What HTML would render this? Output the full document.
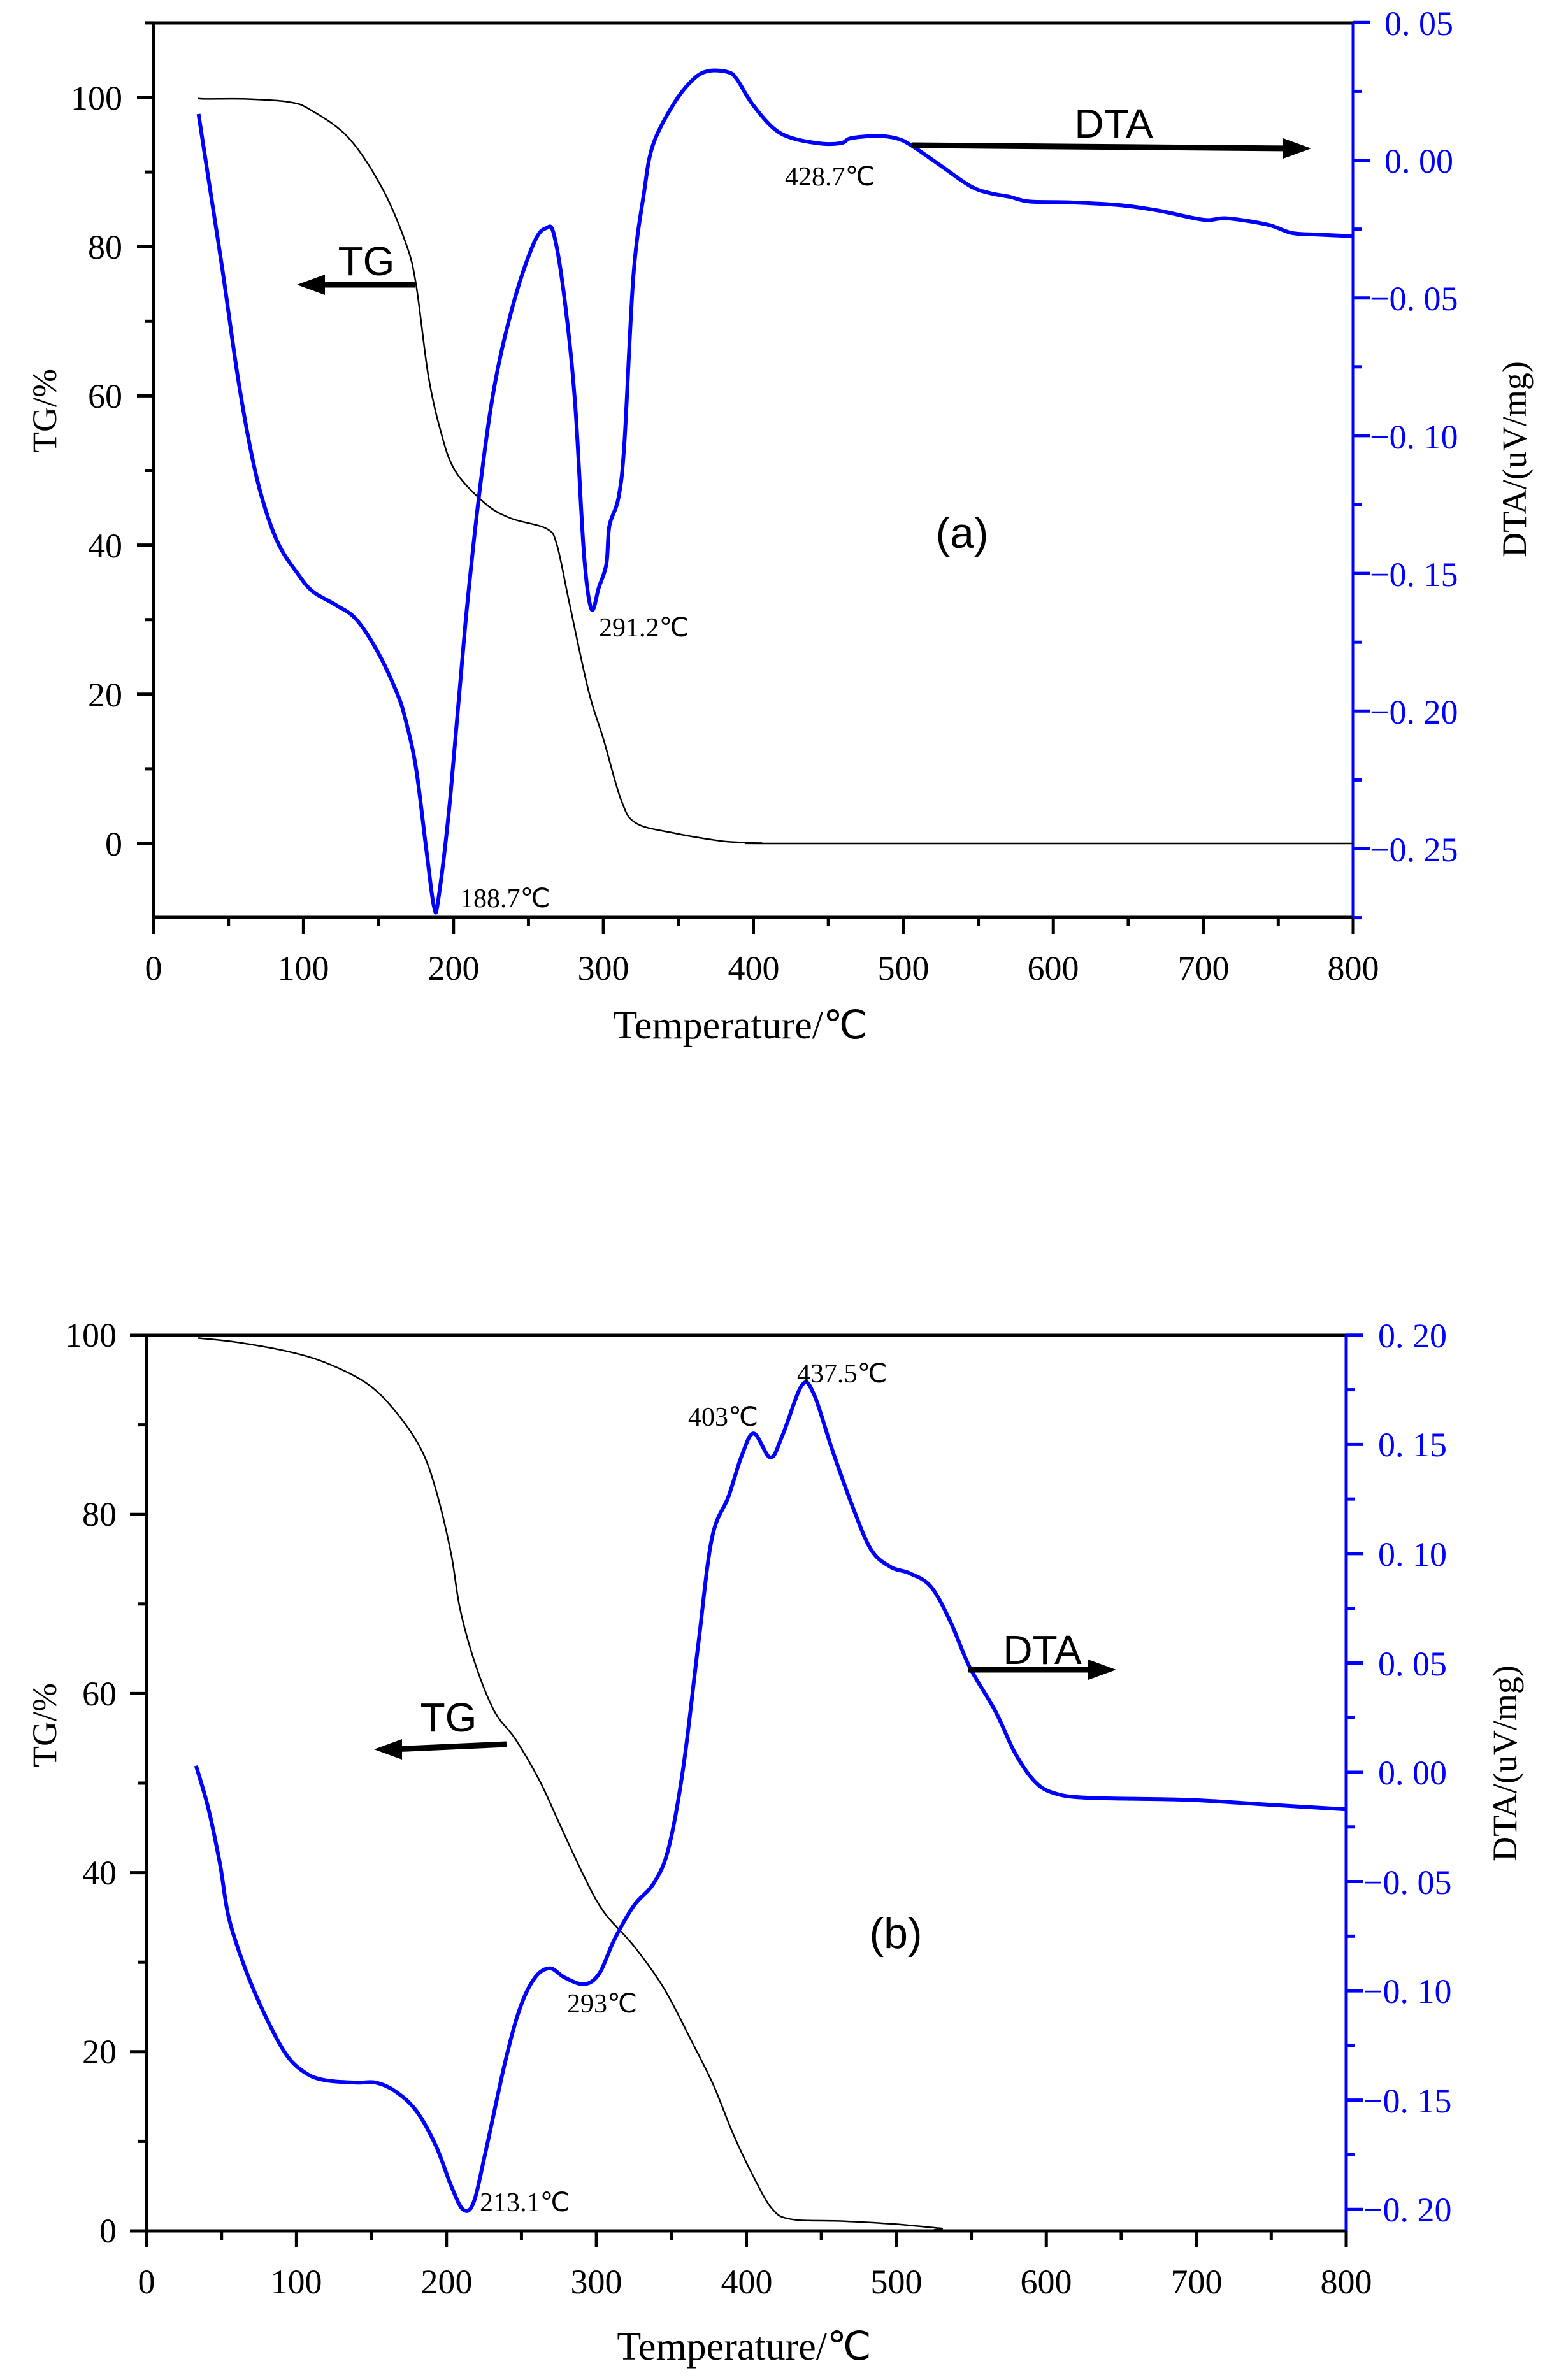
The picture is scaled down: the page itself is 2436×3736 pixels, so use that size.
<!DOCTYPE html>
<html><head><meta charset="utf-8"><style>
html,body{margin:0;padding:0;background:#fff;}
svg{display:block;}
text{font-family:"Liberation Serif",serif;}
.s{font-family:"Liberation Sans",sans-serif;}
</style></head><body>
<svg id="svg" xmlns="http://www.w3.org/2000/svg" width="2436" height="3736" viewBox="0 0 2436 3736">
<rect width="2436" height="3736" fill="#fff"/>
<g id="g"></g>
<g font-size="54" text-anchor="end">
<text x="192" y="172">100</text><text x="192" y="406">80</text><text x="192" y="640">60</text>
<text x="192" y="875">40</text><text x="192" y="1109">20</text><text x="192" y="1343">0</text>
</g>
<g font-size="54" text-anchor="middle">
<text x="241" y="1538">0</text><text x="476" y="1538">100</text><text x="712" y="1538">200</text>
<text x="947" y="1538">300</text><text x="1183" y="1538">400</text><text x="1418" y="1538">500</text>
<text x="1653" y="1538">600</text><text x="1889" y="1538">700</text><text x="2124" y="1538">800</text>
</g>
<g font-size="54" fill="#0000ff">
<text x="2173" y="55">0. 05</text><text x="2173" y="271">0. 00</text><text x="2150" y="487">−0. 05</text>
<text x="2150" y="704">−0. 10</text><text x="2150" y="920">−0. 15</text><text x="2150" y="1136">−0. 20</text>
<text x="2150" y="1352">−0. 25</text>
</g>
<text x="1162" y="1630" font-size="62" text-anchor="middle">Temperature/℃</text>
<text transform="translate(88,645) rotate(-90)" font-size="54" text-anchor="middle">TG/%</text>
<text transform="translate(2395,721) rotate(-90)" font-size="54" text-anchor="middle">DTA/(uV/mg)</text>
<text class="s" x="1510" y="860" font-size="68" text-anchor="middle">(a)</text>
<text class="s" x="575" y="432" font-size="64" text-anchor="middle">TG</text>
<text class="s" x="1748" y="216" font-size="64" text-anchor="middle">DTA</text>
<g font-size="42">
<text x="722" y="1424">188.7℃</text><text x="940" y="999">291.2℃</text><text x="1232" y="291">428.7℃</text>
</g>
<g font-size="54" text-anchor="end">
<text x="183" y="2114">100</text><text x="183" y="2395">80</text><text x="183" y="2677">60</text>
<text x="183" y="2958">40</text><text x="183" y="3239">20</text><text x="183" y="3520">0</text>
</g>
<g font-size="54" text-anchor="middle">
<text x="230" y="3600">0</text><text x="465" y="3600">100</text><text x="701" y="3600">200</text>
<text x="936" y="3600">300</text><text x="1172" y="3600">400</text><text x="1407" y="3600">500</text>
<text x="1642" y="3600">600</text><text x="1878" y="3600">700</text><text x="2113" y="3600">800</text>
</g>
<g font-size="54" fill="#0000ff">
<text x="2163" y="2115">0. 20</text><text x="2163" y="2286">0. 15</text><text x="2163" y="2458">0. 10</text>
<text x="2163" y="2630">0. 05</text><text x="2163" y="2801">0. 00</text><text x="2140" y="2973">−0. 05</text>
<text x="2140" y="3144">−0. 10</text><text x="2140" y="3316">−0. 15</text><text x="2140" y="3487">−0. 20</text>
</g>
<text x="1168" y="3704" font-size="62" text-anchor="middle">Temperature/℃</text>
<text transform="translate(88,2708) rotate(-90)" font-size="54" text-anchor="middle">TG/%</text>
<text transform="translate(2380,2768) rotate(-90)" font-size="54" text-anchor="middle">DTA/(uV/mg)</text>
<text class="s" x="1406" y="3058" font-size="68" text-anchor="middle">(b)</text>
<text class="s" x="704" y="2718" font-size="64" text-anchor="middle">TG</text>
<text class="s" x="1636" y="2612" font-size="64" text-anchor="middle">DTA</text>
<g font-size="42">
<text x="1080" y="2238">403℃</text><text x="1251" y="2170">437.5℃</text>
<text x="890" y="3159">293℃</text><text x="753" y="3471">213.1℃</text>
</g>
</svg>
<script>
var g=document.getElementById('g');var NS='http://www.w3.org/2000/svg';
function el(t,a){var e=document.createElementNS(NS,t);for(var k in a)e.setAttribute(k,a[k]);g.appendChild(e);return e;}
function line(x1,y1,x2,y2,c,w){el('line',{x1:x1,y1:y1,x2:x2,y2:y2,stroke:c,'stroke-width':w});}
function path(pts,c,w){var d='M'+pts[0][0].toFixed(1)+','+pts[0][1].toFixed(1);
for(var i=0;i<pts.length-1;i++){var p0=pts[Math.max(0,i-1)],p1=pts[i],p2=pts[i+1],p3=pts[Math.min(pts.length-1,i+2)];
var c1x=p1[0]+(p2[0]-p0[0])/6,c1y=p1[1]+(p2[1]-p0[1])/6,c2x=p2[0]-(p3[0]-p1[0])/6,c2y=p2[1]-(p3[1]-p1[1])/6;
d+=' C'+c1x.toFixed(1)+','+c1y.toFixed(1)+' '+c2x.toFixed(1)+','+c2y.toFixed(1)+' '+p2[0].toFixed(1)+','+p2[1].toFixed(1);}
el('path',{d:d,fill:'none',stroke:c,'stroke-width':w,'stroke-linejoin':'round'});}
function arrow(x1,y1,x2,y2){line(x1,y1,x2+(x2>x1?-30:30),y2,'#000',9);
var dir=x2>x1?1:-1;el('polygon',{points:(x2)+','+y2+' '+(x2-dir*44)+','+(y2-16)+' '+(x2-dir*44)+','+(y2+16),fill:'#000'});}
function chart(o){
var X=function(t){return o.x0+(t/800)*(o.x1-o.x0);};
var YL=function(v){return o.yl0-v*o.lpu;};
var YR=function(v){return o.yr0-v*o.rpu;};
line(o.x0-3,o.top,o.x1,o.top,'#000',5);
line(o.x0,o.top,o.x0,o.bot,'#000',5);
line(o.x0-3,o.bot,o.x1,o.bot,'#000',5);
line(o.x1,o.top,o.x1,o.bot+2,'#0000ff',5);
for(var t=0;t<=800;t+=50){line(X(t),o.bot,X(t),o.bot+(t%100==0?26:14),'#000',5);}
for(var v=o.lmin;v<=o.lmax;v+=10){var y=YL(v);if(y<o.top-1||y>o.bot+1)continue;line(o.x0,y,o.x0-(v%20==0?26:14),y,'#000',5);}
for(var k=o.rk0;k<=o.rk1;k++){var v=k*0.025;var y=YR(v);if(y<o.top-1||y>o.bot+1)continue;line(o.x1,y,o.x1+(k%2==0?26:14),y,'#0000ff',5);}
path(o.tg.map(function(p){return [X(p[0]),YL(p[1])];}),'#000',2.5);
path(o.dta.map(function(p){return [X(p[0]),YR(p[1])];}),'#0000ff',6);
}
chart({x0:241,x1:2124,top:36,bot:1440,yl0:1324,lpu:11.71,yr0:251.5,rpu:4324,lmin:-10,lmax:110,rk0:-11,rk1:2,
tg:[[30,100],[33,99.8],[60,99.8],[90,99.4],[105,98.3],[130,94.6],[152,88],[168,80.6],[175,75],[183,63],[191,55.6],[201,50],[221,45.6],[238,43.6],[262,42.2],[269,40],[277,32.5],[290,20.5],[300,14],[312,5.7],[322,2.7],[347,1.4],[376,0.4],[390,0.15],[405,0.05],[430,0],[800,0]],
dta:[[30,0.0168],[36,-0.0045],[46,-0.04],[56,-0.078],[64,-0.103],[72,-0.122],[83,-0.139],[96,-0.15],[106,-0.1565],[122,-0.1616],[135,-0.1666],[149,-0.178],[162,-0.193],[168,-0.203],[175,-0.2206],[182,-0.2508],[187,-0.271],[190,-0.268],[198,-0.2307],[208,-0.168],[218,-0.1176],[228,-0.08],[241,-0.05],[254,-0.0296],[262,-0.0246],[267,-0.027],[274,-0.05],[281,-0.0874],[287,-0.1427],[292,-0.163],[297,-0.155],[302,-0.1465],[304,-0.1327],[310,-0.1226],[314,-0.1025],[320,-0.042],[327,-0.012],[333,0.0055],[347,0.0206],[360,0.0294],[370,0.0324],[383,0.032],[389,0.0294],[399,0.0206],[413,0.0118],[426,0.008],[446,0.006],[459,0.0063],[465,0.008],[482,0.0088],[495,0.008],[505,0.0055],[525,-0.002],[545,-0.0095],[558,-0.012],[571,-0.0133],[584,-0.015],[611,-0.0153],[644,-0.0163],[670,-0.0183],[700,-0.0216],[716,-0.0211],[743,-0.0234],[759,-0.0264],[776,-0.027],[800,-0.0276]]});
chart({x0:230,x1:2113,top:2096,bot:3502,yl0:3502,lpu:14.06,yr0:2782,rpu:3431,lmin:0,lmax:100,rk0:-8,rk1:8,
tg:[[34,99.7],[61,99.2],[94,98.2],[120,96.9],[147,94.6],[166,91.5],[183,87.3],[193,82.7],[203,75.7],[209,69.5],[219,63.4],[232,58],[246,54.9],[262,50.3],[275,45.6],[292,39.5],[305,35.6],[325,31.8],[345,27.1],[364,21],[378,16.3],[391,10.9],[404,6.3],[417,2.5],[430,1.3],[463,1.1],[496,0.8],[529,0.3],[549,0],[800,0]],
dta:[[33,0.003],[41,-0.016],[49,-0.042],[55,-0.067],[67,-0.092],[81,-0.114],[94,-0.13],[107,-0.138],[120,-0.141],[140,-0.142],[153,-0.142],[166,-0.146],[180,-0.155],[193,-0.171],[203,-0.189],[211,-0.2],[218,-0.197],[226,-0.174],[239,-0.133],[249,-0.108],[259,-0.094],[269,-0.0897],[279,-0.094],[292,-0.097],[302,-0.092],[312,-0.0765],[325,-0.061],[338,-0.051],[348,-0.035],[358,0.0025],[368,0.059],[377,0.107],[388,0.126],[397,0.145],[405,0.155],[416,0.144],[424,0.154],[437,0.177],[445,0.173],[457,0.148],[470,0.123],[483,0.102],[496,0.094],[509,0.091],[523,0.085],[536,0.069],[549,0.048],[566,0.028],[579,0.009],[592,-0.004],[605,-0.0095],[628,-0.0117],[694,-0.0126],[747,-0.0148],[800,-0.017]]});
arrow(652,447,466,447);
arrow(1432,228,2058,233);
arrow(795,2738,587,2746);
arrow(1519,2621,1752,2621);
</script>
</body></html>
